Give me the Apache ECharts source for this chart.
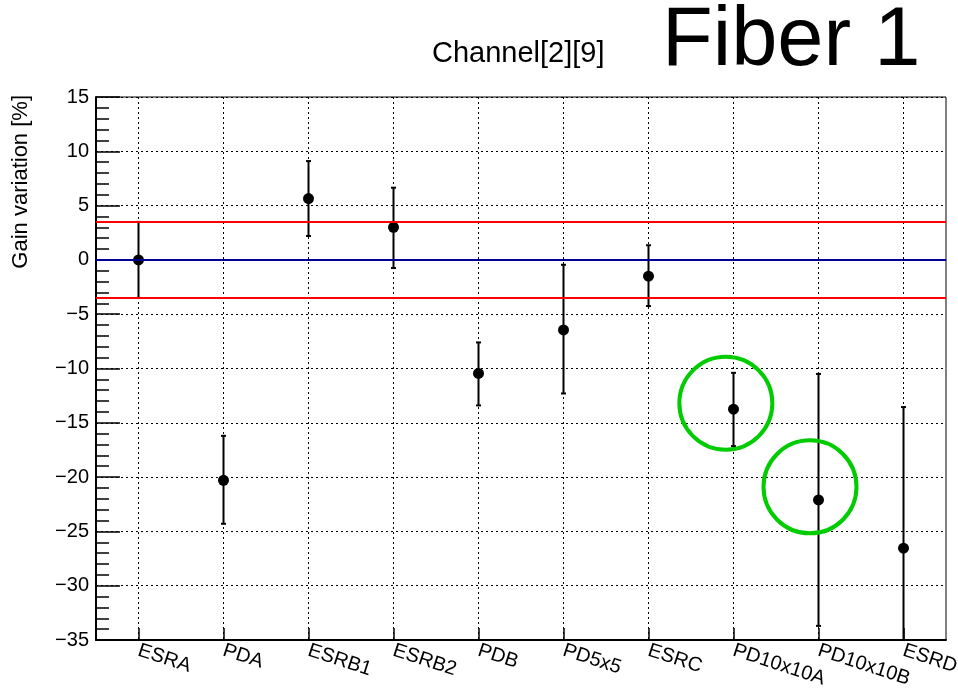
<!DOCTYPE html>
<html><head><meta charset="utf-8">
<script src="https://cdn.jsdelivr.net/npm/echarts@6/dist/echarts.min.js"></script>
<style>html,body{margin:0;padding:0;background:#fff}#c{width:958px;height:691px}</style>
</head><body><div id="c"></div>
<script>
const categories = ['ESRA','PDA','ESRB1','ESRB2','PDB','PD5x5','ESRC','PD10x10A','PD10x10B','ESRD'];
const gainValues = [0.0, -20.3, 5.65, 3.0, -10.45, -6.45, -1.5, -13.75, -22.1, -26.55];
const errLow  = [-3.5, -24.3, 2.2, -0.75, -13.4, -12.3, -4.25, -17.15, -33.7, -39.5];
const errHigh = [3.5, -16.2, 9.1, 6.65, -7.6, -0.45, 1.35, -10.4, -10.5, -13.55];
const limitLines = [3.5, -3.5];
const refLine = 0;
// highlight circles: [slot position (0..20 scale), value]
const circles = [[14.82, -13.2], [16.8, -20.9]];
const yTicks = {min: -35, max: 15, step: 5};

const slotLabels = [''];
categories.forEach(c => { slotLabels.push(c); slotLabels.push(''); });
const slotOf = i => 2 * i + 1;
const oddOnly = (idx) => idx % 2 === 1;

const FONT = 'Liberation Sans, Arial, sans-serif';
const chart = echarts.init(document.getElementById('c'), null, {renderer: 'canvas'});
chart.setOption({
  animation: false,
  backgroundColor: '#fff',
  grid: {left: 96, top: 97, right: 12, bottom: 51, show: true, borderColor: '#000', borderWidth: 1,
         containLabel: false, outerBoundsMode: 'none'},
  title: [
    {text: 'Channel[2][9]', left: 427, top: 34, textStyle: {fontFamily: FONT, fontWeight: 'normal', fontSize: 29, color: '#000'}},
    {text: 'Fiber 1', left: 657, top: -4, textStyle: {fontFamily: FONT, fontWeight: 'normal', fontSize: 83, color: '#000'}}
  ],
  graphic: [{
    type: 'text', x: 10, y: 95, rotation: Math.PI / 2,
    style: {text: 'Gain variation [%]', fontFamily: FONT, fontSize: 22, fill: '#000', align: 'right', verticalAlign: 'top'}
  }],
  xAxis: [{
    type: 'category', data: slotLabels, boundaryGap: false,
    axisLine: {onZero: false, lineStyle: {color: '#000', width: 2}},
    axisTick: {inside: true, length: 12, interval: oddOnly, lineStyle: {color: '#000', width: 1.5}},
    axisLabel: {interval: oddOnly, rotate: -18, fontFamily: FONT, fontSize: 20, color: '#000', margin: 10, hideOverlap: false},
    splitLine: {show: true, interval: oddOnly, lineStyle: {color: '#000', type: [2, 3], width: 1}}
  }, {
    type: 'value', min: 0, max: 20, show: false
  }],
  yAxis: {
    type: 'value', min: yTicks.min, max: yTicks.max, interval: yTicks.step,
    axisLine: {show: true, lineStyle: {color: '#000', width: 2}},
    axisTick: {inside: true, length: 24, lineStyle: {color: '#000', width: 1.5}},
    minorTick: {show: true, splitNumber: 5, length: 13, lineStyle: {color: '#000', width: 1.5}},
    axisLabel: {fontFamily: FONT, fontSize: 20, color: '#000', margin: 7,
      formatter: v => String(v).replace('-', '\u2212')},
    splitLine: {show: true, lineStyle: {color: '#000', type: [2, 3], width: 1}}
  },
  series: [
    {
      type: 'line', xAxisIndex: 1, data: [], silent: true,
      markLine: {
        symbol: 'none', silent: true, label: {show: false},
        data: [
          {yAxis: limitLines[0], lineStyle: {color: '#ff0000', width: 2, type: 'solid'}},
          {yAxis: limitLines[1], lineStyle: {color: '#ff0000', width: 2, type: 'solid'}},
          {yAxis: refLine, lineStyle: {color: '#000099', width: 2, type: 'solid'}}
        ]
      }
    },
    {
      type: 'custom', xAxisIndex: 1, clip: true,
      data: categories.map((c, i) => [slotOf(i), errLow[i], errHigh[i]]),
      renderItem: (params, api) => {
        const lo = api.coord([api.value(0), api.value(1)]);
        const hi = api.coord([api.value(0), api.value(2)]);
        const cw = 2.5;
        const st = {stroke: '#000', lineWidth: 2};
        return {type: 'group', children: [
          {type: 'line', shape: {x1: lo[0], y1: lo[1], x2: hi[0], y2: hi[1]}, style: st},
          {type: 'line', shape: {x1: lo[0] - cw, y1: lo[1], x2: lo[0] + cw, y2: lo[1]}, style: st},
          {type: 'line', shape: {x1: hi[0] - cw, y1: hi[1], x2: hi[0] + cw, y2: hi[1]}, style: st}
        ]};
      }
    },
    {
      type: 'scatter', xAxisIndex: 1, symbol: 'circle', symbolSize: 11,
      itemStyle: {color: '#000', opacity: 1},
      data: gainValues.map((v, i) => [slotOf(i), v])
    },
    {
      type: 'scatter', xAxisIndex: 1, symbol: 'circle', symbolSize: 93,
      itemStyle: {color: 'rgba(0,0,0,0)', borderColor: '#00cc00', borderWidth: 4, opacity: 1},
      data: circles
    }
  ]
});
</script></body></html>
